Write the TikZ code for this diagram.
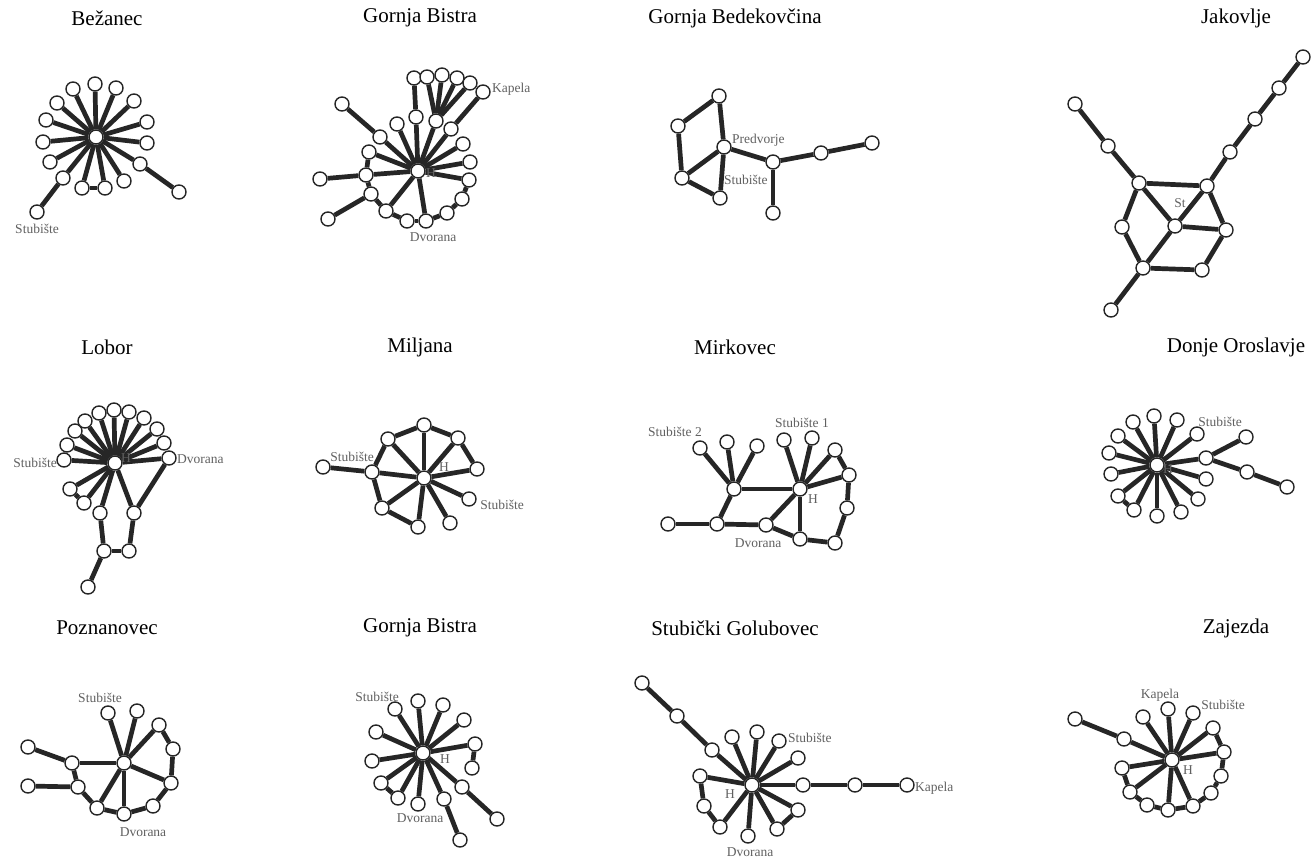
\documentclass[tikz,border=0pt]{standalone}
\usepackage{fontspec}
\setmainfont{Liberation Serif}
\begin{document}
\begin{tikzpicture}[x=1pt,y=-1pt,
  v/.style={circle,draw=black!85,line width=1.4pt,fill=white,minimum size=14pt,inner sep=0pt},
  e/.style={line width=4.7pt,draw=black!85},
  ttl/.style={font=\fontsize{21}{24}\selectfont,text=black},
  lab/.style={font=\fontsize{13.5}{15}\selectfont,text=black!62,inner sep=1pt}]
\useasboundingbox[fill=white] (0,0) rectangle (1314,859);
% titles
\node[ttl] (t1) at (107,18) {Bežanec};
\node[ttl] (t2) at (420,18) {Gornja Bistra};
\node[ttl] (t3) at (735,18) {Gornja Bedekovčina};
\node[ttl] (t4) at (1236,18) {Jakovlje};
\node[ttl] (t5) at (107,347) {Lobor};
\node[ttl] (t6) at (420,347) {Miljana};
\node[ttl] (t7) at (735,347) {Mirkovec};
\node[ttl] (t8) at (1236,347) {Donje Oroslavje};
\node[ttl] (t9) at (107,628) {Poznanovec};
\node[ttl] (t10) at (420,628) {Gornja Bistra};
\node[ttl] (t11) at (735,628) {Stubički Golubovec};
\node[ttl] (t12) at (1236,628) {Zajezda};
% nodes
\foreach \n/\x/\y in {
 a0/96/137,a1/95/84,a2/73/89,a3/57/103,a4/46/120,a5/43/142,a6/50/162,a7/63/178,a8/37/212,a9/82/188,a10/105/188,a11/124/181,a12/140/164,a13/179/192,a14/147/143,a15/147/122,a16/134/101,a17/116/88,
 b0/418/171,b1/414/78,b2/427/77,b3/442/75,b4/457/78,b5/470/83,b6/483/92,b7/416/117,b8/436/121,b9/451/129,b10/463/144,b11/470/162,b12/469/180,b13/462/199,b14/447/213,b15/426/221,b16/407/221,b17/386/211,b18/371/194,b19/366/175,b20/369/152,b21/380/137,b22/397/124,b23/342/104,b24/320/179,b25/328/219,
 c1/719/96,c2/678/126,c3/724/147,c4/682/178,c5/720/198,c6/773/162,c7/821/153,c8/872/143,c9/773/213,
 d1/1075/104,d2/1108/146,d3/1139/183,d4/1207/186,d5/1230/152,d6/1255/119,d7/1279/88,d8/1303/57,d9/1175/226,d10/1122/227,d11/1226/230,d12/1143/268,d13/1202/270,d14/1111/310,
 e0/115/463,e1/64/460,e2/67/445,e3/75/431,e4/85/421,e5/99/413,e6/114/410,e7/129/412,e8/144/418,e9/157/429,e10/164/443,e11/169/458,e12/70/489,e13/84/503,e14/100/513,e15/134/513,e16/104/551,e17/129/551,e18/88/587,
 f0/424/478,f1/424/425,f2/388/439,f3/458/438,f4/477/469,f5/372/472,f6/323/467,f7/382/508,f8/418/527,f9/450/523,f10/469/499,
 g0/800/489,g1/734/489,g2/700/448,g3/727/442,g4/757/446,g5/784/440,g6/812/438,g7/835/450,g8/849/475,g9/847/508,g10/835/543,g11/800/539,g12/766/525,g13/717/524,g14/668/524,
 h0/1157/465,h1/1154/416,h2/1133/422,h3/1177/420,h4/1197/434,h5/1118/436,h6/1109/453,h7/1111/474,h8/1118/496,h9/1134/510,h10/1157/516,h11/1181/512,h12/1198/499,h13/1206/479,h14/1206/458,h15/1246/437,h16/1247/472,h17/1287/487,
 i0/124/763,i1/108/713,i2/137/711,i3/159/725,i4/173/749,i5/171/783,i6/153/806,i7/124/814,i8/97/808,i9/78/787,i10/72/763,i11/28/747,i12/28/786,
 j0/423/753,j1/395/709,j2/418/701,j3/443/705,j4/464/720,j5/475/744,j6/472/768,j7/462/787,j8/497/819,j9/444/799,j10/460/840,j11/418/804,j12/398/798,j13/381/783,j14/372/761,j15/376/732,
 k0/752/785,k1/642/683,k2/677/716,k3/712/750,k4/732/737,k5/757/732,k6/779/741,k7/798/758,k8/803/785,k9/855/785,k10/907/785,k11/798/810,k12/777/829,k13/748/836,k14/720/827,k15/704/806,k16/700/776,
 l0/1172/760,l1/1143/717,l2/1168/709,l3/1193/713,l4/1213/728,l5/1224/752,l6/1221/776,l7/1211/793,l8/1193/806,l9/1168/810,l10/1147/805,l11/1130/792,l12/1122/768,l13/1124/739,l14/1075/719}
 \node[v] (\n) at (\x,\y) {};
% edges
\foreach \s/\t in {
 a0/a1,a0/a2,a0/a3,a0/a4,a0/a5,a0/a6,a0/a7,a0/a9,a0/a10,a0/a11,a0/a12,a0/a14,a0/a15,a0/a16,a0/a17,a7/a8,a9/a10,a12/a13,
 b1/b7,b7/b0,b2/b8,b3/b8,b4/b8,b5/b8,b8/b0,b6/b9,b9/b0,b0/b10,b0/b11,b0/b12,b12/b13,b13/b14,b14/b15,b15/b16,b16/b17,b0/b15,b0/b17,b17/b18,b18/b19,b25/b18,b24/b19,b19/b0,b19/b20,b20/b0,b23/b21,b21/b0,b22/b0,
 c1/c2,c2/c4,c1/c3,c3/c4,c3/c5,c4/c5,c3/c6,c6/c7,c7/c8,c6/c9,
 d1/d2,d2/d3,d3/d4,d4/d5,d5/d6,d6/d7,d7/d8,d3/d9,d4/d9,d9/d12,d9/d11,d4/d11,d3/d10,d10/d12,d12/d13,d13/d11,d12/d14,
 e0/e1,e0/e2,e0/e3,e0/e4,e0/e5,e0/e6,e0/e7,e0/e8,e0/e9,e0/e10,e0/e11,e0/e12,e0/e13,e0/e14,e12/e13,e0/e15,e11/e15,e15/e17,e14/e16,e16/e17,e16/e18,
 f1/f2,f1/f3,f3/f4,f2/f5,f5/f7,f7/f8,f6/f5,f0/f1,f0/f2,f0/f3,f0/f4,f0/f5,f0/f7,f0/f8,f0/f9,f0/f10,
 g2/g1,g3/g1,g4/g1,g1/g0,g1/g13,g14/g13,g13/g12,g12/g0,g12/g11,g0/g11,g11/g10,g10/g9,g9/g8,g8/g7,g0/g5,g0/g6,g0/g7,g0/g8,
 h0/h1,h0/h2,h0/h3,h0/h4,h0/h5,h0/h6,h0/h7,h0/h8,h0/h9,h0/h10,h0/h11,h0/h12,h0/h13,h0/h14,h8/h9,h14/h15,h14/h16,h16/h17,
 i0/i1,i0/i2,i0/i3,i0/i5,i0/i7,i0/i8,i0/i10,i3/i4,i4/i5,i5/i6,i6/i7,i7/i8,i8/i9,i9/i10,i11/i10,i12/i9,
 j0/j1,j0/j2,j0/j3,j0/j4,j0/j5,j0/j7,j0/j9,j0/j11,j0/j12,j0/j13,j0/j14,j0/j15,j5/j6,j7/j8,j9/j10,j13/j12,
 k1/k2,k2/k3,k3/k0,k0/k4,k0/k5,k0/k6,k0/k7,k0/k8,k8/k9,k9/k10,k0/k11,k0/k12,k0/k13,k0/k14,k0/k16,k11/k12,k16/k15,k15/k14,
 l0/l1,l0/l2,l0/l3,l0/l4,l0/l5,l0/l8,l0/l9,l0/l11,l0/l12,l0/l13,l13/l14,l4/l5,l5/l6,l6/l7,l7/l8,l8/l9,l9/l10,l10/l11,l11/l12}
 \draw[e] (\s) -- (\t);
% labels
\node[lab] (la1) at (37,229) {Stubište};
\node[lab,anchor=west] (lb1) at (425,173) {H};
\node[lab,anchor=west] (lb2) at (491,89) {Kapela};
\node[lab] (lb3) at (433,237) {Dvorana};
\node[lab,anchor=west] (lc1) at (731,140) {Predvorje};
\node[lab,anchor=west] (lc2) at (723,180) {Stubište};
\node[lab] (ld1) at (1180,203) {St};
\node[lab,anchor=east] (le1) at (58,463) {Stubište};
\node[lab,anchor=west] (le2) at (120,458) {H};
\node[lab,anchor=west] (le3) at (176,459) {Dvorana};
\node[lab] (lf1) at (352,457) {Stubište};
\node[lab] (lf2) at (444,467) {H};
\node[lab] (lf3) at (502,505) {Stubište};
\node[lab] (lg1) at (675,432) {Stubište 2};
\node[lab] (lg2) at (802,423) {Stubište 1};
\node[lab] (lg3) at (813,499) {H};
\node[lab] (lg4) at (758,543) {Dvorana};
\node[lab] (lh1) at (1168,469) {H};
\node[lab] (lh2) at (1220,422) {Stubište};
\node[lab] (li1) at (100,698) {Stubište};
\node[lab] (li2) at (143,832) {Dvorana};
\node[lab] (lj1) at (377,697) {Stubište};
\node[lab] (lj2) at (445,759) {H};
\node[lab] (lj3) at (420,818) {Dvorana};
\node[lab] (lk1) at (730,794) {H};
\node[lab,anchor=west] (lk2) at (787,738) {Stubište};
\node[lab,anchor=west] (lk3) at (914,788) {Kapela};
\node[lab,anchor=south] (lk4) at (750,858) {Dvorana};
\node[lab] (ll1) at (1160,695) {Kapela};
\node[lab] (ll2) at (1223,705) {Stubište};
\node[lab] (ll3) at (1188,770) {H};
\end{tikzpicture}
\end{document}
